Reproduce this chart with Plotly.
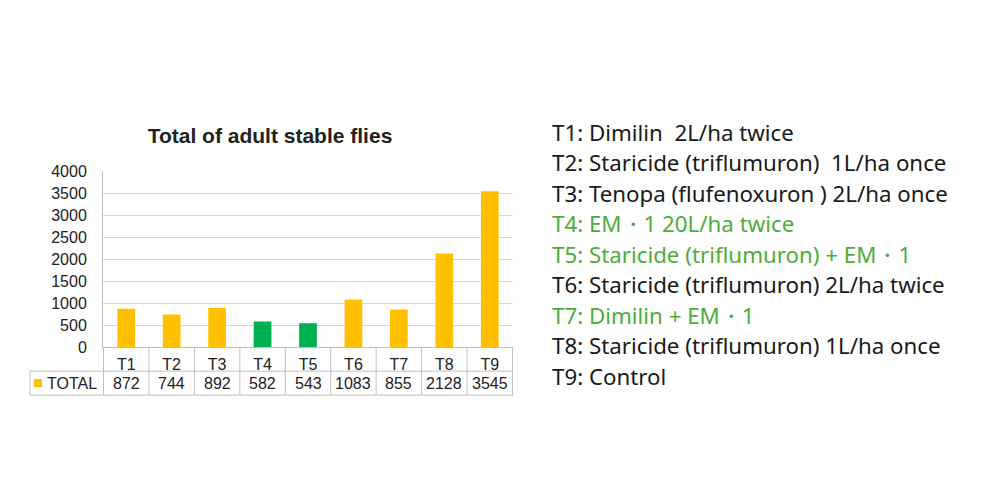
import plotly.graph_objects as go

categories = ["T1", "T2", "T3", "T4", "T5", "T6", "T7", "T8", "T9"]
totals = [872, 744, 892, 582, 543, 1083, 855, 2128, 3545]
green_treatments = ["T4", "T5"]
series_name = "TOTAL"
title_text = "Total of adult stable flies"
y_ticks = [0, 500, 1000, 1500, 2000, 2500, 3000, 3500, 4000]
descriptions = [
    "T1: Dimilin  2L/ha twice",
    "T2: Staricide (triflumuron)  1L/ha once",
    "T3: Tenopa (flufenoxuron ) 2L/ha once",
    "T4: EM・1 20L/ha twice",
    "T5: Staricide (triflumuron) + EM・1",
    "T6: Staricide (triflumuron) 2L/ha twice",
    "T7: Dimilin + EM・1",
    "T8: Staricide (triflumuron) 1L/ha once",
    "T9: Control",
]
green_descriptions = ["T4", "T5", "T7"]

YELLOW = "#FFC000"
GREEN = "#00B050"
TEXT_GREEN = "#4EAD3A"
GRID = "#D9D9D9"
BORDER = "#BFBFBF"
W, H = 1000, 500
OFF_X = 8
OFF_Y, SCALE_Y = 16.5, 0.967

def px_x(p):
    return (p - OFF_X) / W

def px_y(p):
    return 1 - ((p - OFF_Y) / SCALE_Y) / H

x0, x1 = 103, 513
y_top, y_axis = 172, 348
row1_bot, row2_bot = 372, 396
table_left = 30

bar_colors = [GREEN if c in green_treatments else YELLOW for c in categories]

fig = go.Figure()
fig.add_trace(go.Bar(x=categories, y=totals, marker=dict(color=bar_colors, line=dict(width=0)),
                     width=0.39, showlegend=False, name=series_name))

shapes = []
for yy in [row1_bot, row2_bot]:
    shapes.append(dict(type="line", xref="paper", yref="paper", x0=px_x(table_left), x1=px_x(x1),
                       y0=px_y(yy), y1=px_y(yy), line=dict(color=BORDER, width=1)))
n = len(categories)
for i in range(n + 1):
    shapes.append(dict(type="line", xref="x", yref="paper", x0=i - 0.5, x1=i - 0.5,
                       y0=px_y(y_axis), y1=px_y(row2_bot), line=dict(color=BORDER, width=1)))
shapes.append(dict(type="line", xref="paper", yref="paper", x0=px_x(table_left), x1=px_x(table_left),
                   y0=px_y(row1_bot), y1=px_y(row2_bot), line=dict(color=BORDER, width=1)))
shapes.append(dict(type="rect", xref="paper", yref="paper", x0=px_x(34), x1=px_x(42),
                   y0=px_y(388), y1=px_y(380), fillcolor=YELLOW, line=dict(width=0)))

annotations = []
row2_c = (row1_bot + row2_bot) / 2
for c, v in zip(categories, totals):
    annotations.append(dict(x=c, xref="x", y=px_y(row2_c), yref="paper", text=str(v), showarrow=False,
                            xanchor="center", yanchor="middle",
                            font=dict(family="Liberation Sans, Arial", size=16, color="#222222")))
annotations.append(dict(x=px_x(45), xref="paper", y=px_y(row2_c), yref="paper", text=series_name,
                        showarrow=False, xanchor="left", yanchor="middle",
                        font=dict(family="Liberation Sans, Arial", size=16, color="#222222")))

line_y0, line_gap = 133, 30.5
for i, d in enumerate(descriptions):
    tag = d.split(":")[0]
    col = TEXT_GREEN if tag in green_descriptions else "#1a1a1a"
    annotations.append(dict(x=px_x(550), xref="paper", y=px_y(line_y0 + i * line_gap), yref="paper",
                            text=d.replace("  ", "\u00a0\u00a0"),
                            showarrow=False, xanchor="left", yanchor="middle",
                            font=dict(family="Noto Sans, Open Sans", size=22.3, color=col)))

fig.update_layout(
    width=W, height=H,
    margin=dict(l=0, r=0, t=0, b=0),
    paper_bgcolor="white", plot_bgcolor="white",
    title=dict(text="<b>" + title_text + "</b>", x=px_x(270), xref="paper", xanchor="center",
               y=px_y(136), yref="paper", yanchor="middle",
               font=dict(family="Liberation Sans, Arial", size=21, color="#222222")),
    xaxis=dict(domain=[px_x(x0), px_x(x1)], showgrid=False, showline=True, linecolor=BORDER,
               ticks="", ticklabelstandoff=3,
               tickfont=dict(family="Liberation Sans, Arial", size=16, color="#222222")),
    yaxis=dict(domain=[px_y(y_axis), px_y(y_top)], range=[0, 4000], tickvals=y_ticks,
               showgrid=True, gridcolor=GRID, gridwidth=1, showline=True, linecolor=BORDER,
               zeroline=False, ticks="", ticklabelstandoff=12,
               tickfont=dict(family="Liberation Sans, Arial", size=16, color="#222222")),
    shapes=shapes, annotations=annotations, bargap=0.6,
)
fig.write_html("out.html")
